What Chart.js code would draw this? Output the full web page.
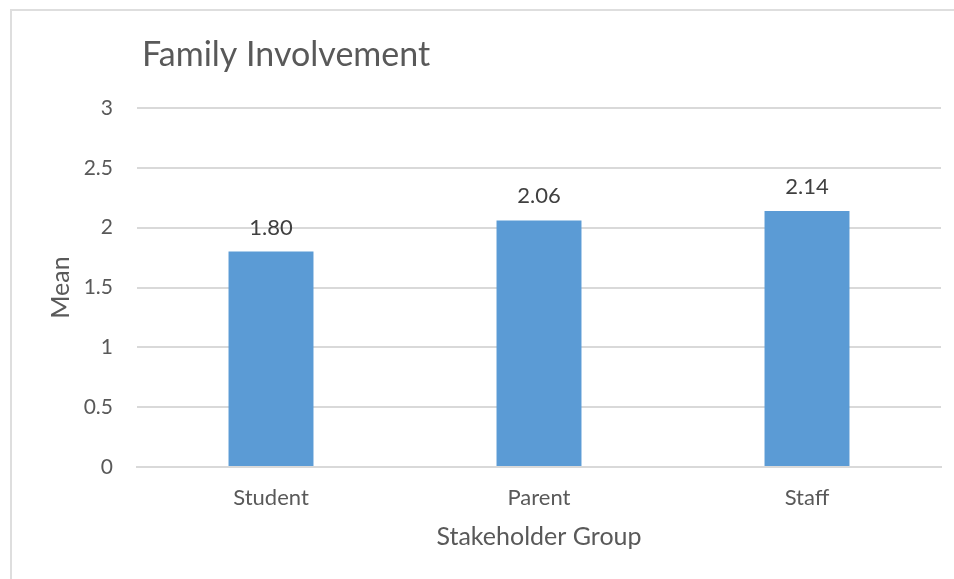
<!DOCTYPE html>
<html>
<head>
<meta charset="utf-8">
<title>Family Involvement</title>
<script src="https://cdn.jsdelivr.net/npm/chart.js@4/dist/chart.umd.min.js"></script>
<style>
  html, body { margin: 0; padding: 0; background: #fff; overflow: hidden; }
  #wrap { position: relative; width: 954px; height: 579px; }
  #frame {
    position: absolute; left: 10px; top: 9px; width: 980px; height: 620px;
    border: 2px solid #dedede; box-sizing: border-box;
  }
  canvas { position: absolute; left: 0; top: 0; }
</style>
</head>
<body>
<div id="wrap">
  <div id="frame"></div>
  <canvas id="myBarChart" width="954" height="579"></canvas>
</div>
<script>
// Mean scores per stakeholder group

let groups = ['Student', 'Parent', 'Staff'];
let means = [1.80, 2.06, 2.14];
let yTicks = [0, 0.5, 1, 1.5, 2, 2.5, 3];

let chartTitle = 'Family Involvement';
let fontFamily = 'Lato, "Noto Sans", sans-serif';

// title in the top left corner
let titlePlugin = {
  id: 'cornerTitle',
  afterDraw(chart) {
    let ctx = chart.ctx;
    ctx.save();
    ctx.font = '34px ' + fontFamily;
    ctx.fillStyle = '#595959';
    ctx.textAlign = 'left';
    ctx.textBaseline = 'middle';
    ctx.fillText(chartTitle, 142, 55);
    ctx.restore();
  },
};

// value labels above each bar
let valueLabels = {
  id: 'valueLabels',
  afterDatasetsDraw(chart) {
    let ctx = chart.ctx;
    let meta = chart.getDatasetMeta(0);
    ctx.save();
    ctx.font = '22px ' + fontFamily;
    ctx.fillStyle = '#404040';
    ctx.textAlign = 'center';
    ctx.textBaseline = 'alphabetic';
    meta.data.forEach(function (bar, i) {
      ctx.fillText(means[i].toFixed(2), bar.x, bar.y - 17);
    });
    ctx.restore();
  },
};

let ctx = document.getElementById('myBarChart').getContext('2d');
let myBarChart = new Chart(ctx, {
  type: 'bar',
  data: {
    labels: groups,
    datasets: [
      {
        data: means,
        backgroundColor: '#5B9BD5',
        categoryPercentage: 1,
        barPercentage: 0.317,
      },
    ],
  },
  options: {
    responsive: false,
    animation: false,
    events: [],
    layout: {
      padding: { top: 108, right: 13, bottom: 0, left: 0 },
    },
    plugins: {
      legend: { display: false },
      tooltip: { enabled: false },
    },
    scales: {
      x: {
        grid: { display: false, drawTicks: false },
        border: { display: true, color: '#d9d9d9', width: 2 },
        ticks: {
          color: '#595959',
          font: { family: fontFamily, size: 22 },
          padding: 18,
        },
        title: {
          display: true,
          text: 'Stakeholder Group',
          color: '#595959',
          font: { family: fontFamily, size: 25 },
          padding: { top: 0, bottom: 27 },
        },
        afterFit(scale) {
          scale.height = 112;
        },
      },
      y: {
        min: 0,
        max: 3,
        afterBuildTicks(scale) {
          scale.ticks = yTicks.map(function (v) {
            return { value: v };
          });
        },
        grid: { color: '#d9d9d9', lineWidth: 2, drawTicks: false },
        border: { display: false },
        ticks: {
          color: '#595959',
          font: { family: fontFamily, size: 21 },
          padding: 24,
          callback: function (value) {
            return String(value);
          },
        },
        title: {
          display: true,
          text: 'Mean',
          color: '#595959',
          font: { family: fontFamily, size: 25 },
          padding: { top: 46, bottom: 0 },
        },
        afterFit(scale) {
          scale.width = 137;
        },
      },
    },
  },
  plugins: [titlePlugin, valueLabels],
});
</script>
</body>
</html>
